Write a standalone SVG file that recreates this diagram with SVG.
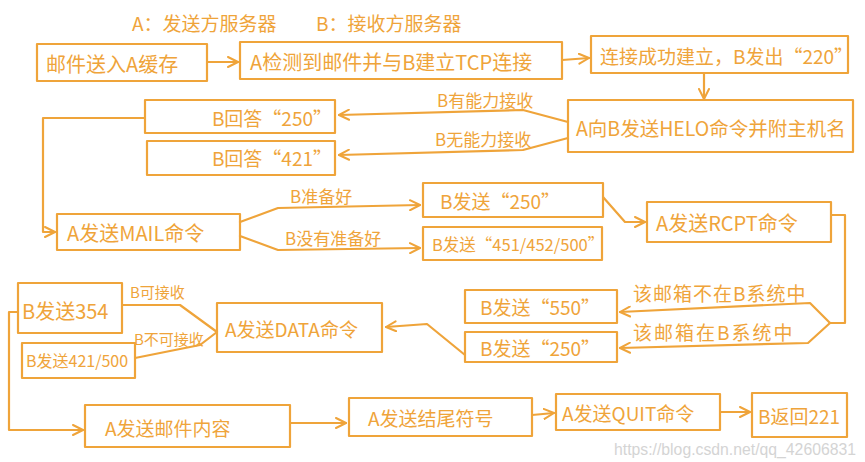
<svg xmlns="http://www.w3.org/2000/svg" width="865" height="462" viewBox="0 0 865 462">
<defs>
<marker id="ah" viewBox="0 0 12 12" refX="11" refY="6" markerWidth="12" markerHeight="12" markerUnits="userSpaceOnUse" orient="auto">
<path d="M1,1 L11,6 L1,11" fill="none" stroke="#EFA43A" stroke-width="2" stroke-linecap="round" stroke-linejoin="round"/>
</marker>
</defs>
<style>
.b{fill:none;stroke:#EFA43A;stroke-width:2.2;stroke-linejoin:round}
.c{fill:none;stroke:#EFA43A;stroke-width:2.2;stroke-linejoin:round;stroke-linecap:round}
.a{marker-end:url(#ah)}
text{font-family:"Noto Sans CJK SC","Liberation Sans",sans-serif;fill:#EFA43A;dominant-baseline:central}
.t{font-size:19px}
.l{font-size:17px}
.wm{fill:#d4d4d4;font-family:"Liberation Sans",sans-serif;font-size:16px}
</style>
<rect width="865" height="462" fill="#fff"/>
<g id="title">
<text class="t" x="132" y="22">A：发送方服务器</text>
<text class="t" x="316" y="22">B：接收方服务器</text>
</g>
<g id="connectors">
<path class="c a" d="M207,62 L238,62"/>
<path class="c a" d="M562,60 L589,58"/>
<path class="c a" d="M704,73 L704,99"/>
<path class="c a" d="M568,122 L523,110 L339,115"/>
<path class="c a" d="M568,138 L523,150 L339,155"/>
<path class="c a" d="M145,118 L43,118 L43,232 L55,232"/>
<path class="c a" d="M240,222 L278,208 L420,205"/>
<path class="c a" d="M240,236 L278,250 L420,248"/>
<path class="c a" d="M603,197 L625,222 L645,222"/>
<path class="c" d="M831,215 L845,215 L845,323 L830,323"/>
<path class="c a" d="M830,323 L810,303 L620,312"/>
<path class="c a" d="M830,323 L808,343 L620,348"/>
<path class="c a" d="M465,355 L427,324 L386,327"/>
<path class="c" d="M217,332 L180,305 L123,305"/>
<path class="c" d="M217,332 L200,345 L135,358"/>
<path class="c a" d="M18,312 L9,312 L9,430 L83,430"/>
<path class="c a" d="M290,423 L346,423"/>
<path class="c a" d="M532,415 L554,413"/>
<path class="c a" d="M720,412 L750,412"/>
</g>
<g id="n1"><rect class="b" x="37" y="44" width="170" height="37"/><text x="46" y="63" style="font-size:20px">邮件送入A缓存</text></g>
<g id="n2"><rect class="b" x="240" y="42" width="322" height="37"/><text x="250" y="61" style="font-size:20px">A检测到邮件并与B建立TCP连接</text></g>
<g id="n3"><rect class="b" x="591" y="36" width="257" height="37"/><text x="600" y="55" class="t">连接成功建立，B发出“220”</text></g>
<g id="n4"><rect class="b" x="568" y="100" width="285" height="52"/><text x="576" y="127" style="font-size:19.5px">A向B发送HELO命令并附主机名</text></g>
<g id="n5"><rect class="b" x="145" y="100" width="190" height="33"/><text x="332" y="117" class="t" text-anchor="end">B回答“250”</text></g>
<g id="n6"><rect class="b" x="147" y="141" width="188" height="34"/><text x="332" y="157" class="t" text-anchor="end">B回答“421”</text></g>
<g id="lb1"><text class="l" x="437" y="99">B有能力接收</text><text class="l" x="435" y="138">B无能力接收</text></g>
<g id="n7"><rect class="b" x="57" y="214" width="183" height="36"/><text x="67" y="232" style="font-size:20px">A发送MAIL命令</text></g>
<g id="lb2"><text class="l" x="290" y="195">B准备好</text><text class="l" x="285" y="237">B没有准备好</text></g>
<g id="n8"><rect class="b" x="423" y="183" width="180" height="34"/><text x="440" y="200" class="t">B发送“250”</text></g>
<g id="n9"><rect class="b" x="423" y="227" width="179" height="33"/><text x="432" y="244" style="font-size:16.5px">B发送“451/452/500”</text></g>
<g id="n10"><rect class="b" x="647" y="202" width="184" height="40"/><text x="656" y="222" style="font-size:20px">A发送RCPT命令</text></g>
<g id="lb3"><text class="t" x="633" y="292" style="letter-spacing:1px">该邮箱不在B系统中</text><text class="t" x="633" y="331" style="letter-spacing:2px">该邮箱在B系统中</text></g>
<g id="n11"><rect class="b" x="465" y="290" width="152" height="33"/><text x="480" y="306" class="t">B发送“550”</text></g>
<g id="n12"><rect class="b" x="465" y="332" width="152" height="30"/><text x="480" y="347" class="t">B发送“250”</text></g>
<g id="n13"><rect class="b" x="217" y="303" width="165" height="49"/><text x="225" y="328" class="t">A发送DATA命令</text></g>
<g id="n14"><rect class="b" x="18" y="283" width="104" height="50"/><text x="22" y="310" style="font-size:20px">B发送354</text></g>
<g id="n15"><rect class="b" x="22" y="343" width="113" height="35"/><text x="26" y="360" style="font-size:16px">B发送421/500</text></g>
<g id="lb4"><text x="130" y="291" style="font-size:15px">B可接收</text><text x="134" y="338" style="font-size:15px">B不可接收</text></g>
<g id="n16"><rect class="b" x="85" y="405" width="205" height="42"/><text x="105" y="427" class="t">A发送邮件内容</text></g>
<g id="n17"><rect class="b" x="349" y="398" width="183" height="38"/><text x="368" y="417" class="t">A发送结尾符号</text></g>
<g id="n18"><rect class="b" x="556" y="394" width="164" height="36"/><text x="562" y="412" class="t">A发送QUIT命令</text></g>
<g id="n19"><rect class="b" x="752" y="393" width="95" height="44"/><text x="758" y="415" class="t">B返回221</text></g>
<text class="wm" x="614" y="449" textLength="242" lengthAdjust="spacingAndGlyphs">https://blog.csdn.net/qq_42606831</text>
</svg>
